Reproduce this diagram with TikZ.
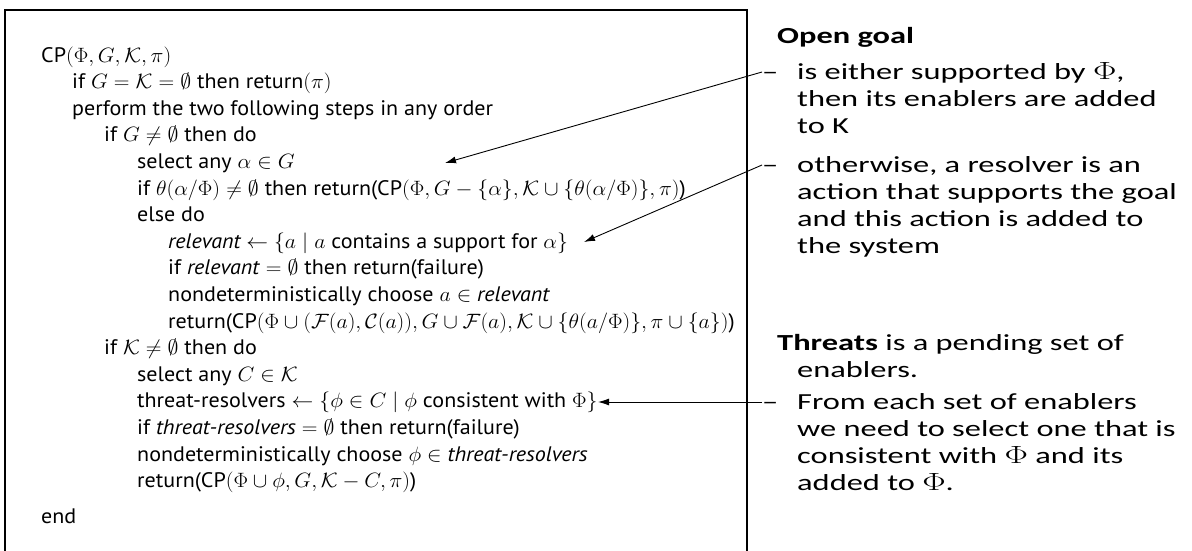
\documentclass[tikz,border=0pt]{standalone}
\usepackage{fontspec}
\usepackage{amssymb}
\usepackage{graphicx}
\usetikzlibrary{arrows.meta}
\newfontfamily\algfont{PT Sans}
\newfontfamily\slidefont{Carlito}
\newcommand{\algsx}{1.05}
\newcommand{\slsx}{1.41}
\newcommand{\ax}[1]{\scalebox{\algsx}[1]{#1}}
\newcommand{\sx}[1]{\scalebox{\slsx}[1]{#1}}
\tikzset{
  alg/.style={anchor=base west, inner sep=0pt, font=\algfont\fontsize{21}{27}\selectfont},
  sl/.style={anchor=base west, inner sep=0pt, font=\slidefont\fontsize{23}{27}\selectfont},
  conn/.style={draw=black, line width=0.9pt, -{Latex[length=11pt,width=7pt]}},
}
\begin{document}
\begin{tikzpicture}[x=1pt,y=-1pt]
\useasboundingbox (0,0) rectangle (1192,550);
% box (bottom cut off)
\draw[line width=1.1pt] (5,560) -- (5,10) -- (747,10) -- (747,560);
% algorithm
\node[alg] (l1) at (41,62) {\ax{CP$(\Phi,G,\mathcal{K},\pi)$}};
\node[alg] (l2) at (72,88.6) {\ax{if $G=\mathcal{K}=\emptyset$ then return$(\pi)$}};
\node[alg] (l3) at (72,115.2) {\ax{perform the two following steps in any order}};
\node[alg] (l4) at (104,141.8) {\ax{if $G\neq\emptyset$ then do}};
\node[alg] (l5) at (137,168.4) {\ax{select any $\alpha\in G$}};
\node[alg] (l6) at (137,195) {\ax{if $\theta(\alpha/\Phi)\neq\emptyset$ then return(CP$(\Phi,G-\{\alpha\},\mathcal{K}\cup\{\theta(\alpha/\Phi)\},\pi)$)}};
\node[alg] (l7) at (137,221.6) {\ax{else do}};
\node[alg] (l8) at (168,248.2) {\ax{\itshape relevant\upshape{} $\leftarrow\{a\mid a$ contains a support for $\alpha\}$}};
\node[alg] (l9) at (168,274.8) {\ax{if \textit{relevant} $=\emptyset$ then return(failure)}};
\node[alg] (l10) at (168,301.4) {\ax{nondeterministically choose $a\in$ \textit{relevant}}};
\node[alg] (l11) at (168,328) {\ax{return(CP$(\Phi\cup(\mathcal{F}(a),\mathcal{C}(a)),G\cup\mathcal{F}(a),\mathcal{K}\cup\{\theta(a/\Phi)\},\pi\cup\{a\})$)}};
\node[alg] (l12) at (104,354.6) {\ax{if $\mathcal{K}\neq\emptyset$ then do}};
\node[alg] (l13) at (137,381.2) {\ax{select any $C\in\mathcal{K}$}};
\node[alg] (l14) at (137,407.8) {\ax{threat-resolvers $\leftarrow\{\phi\in C\mid\phi$ consistent with $\Phi\}$}};
\node[alg] (l15) at (137,434.4) {\ax{if \textit{threat-resolvers} $=\emptyset$ then return(failure)}};
\node[alg] (l16) at (137,461) {\ax{nondeterministically choose $\phi\in$ \textit{threat-resolvers}}};
\node[alg] (l17) at (137,487.6) {\ax{return(CP$(\Phi\cup\phi,G,\mathcal{K}-C,\pi)$)}};
\node[alg] (lend) at (41,523) {\ax{end}};
% right column
\node[sl] (og) at (777,43) {\sx{\bfseries Open goal}};
\node[sl] (d1) at (762,79) {\sx{–}};
\node[sl] (r1) at (797,79) {\sx{is either supported by $\Phi$,}};
\node[sl] (r2) at (797,106) {\sx{then its enablers are added}};
\node[sl] (r3) at (797,133) {\sx{to K}};
\node[sl] (d2) at (762,172) {\sx{–}};
\node[sl] (r4) at (797,172) {\sx{otherwise, a resolver is an}};
\node[sl] (r5) at (797,199) {\sx{action that supports the goal}};
\node[sl] (r6) at (797,226) {\sx{and this action is added to}};
\node[sl] (r7) at (797,253) {\sx{the system}};
\node[sl] (th) at (777,350) {\sx{\textbf{Threats} is a pending set of}};
\node[sl] (t2) at (797,377) {\sx{enablers.}};
\node[sl] (d3) at (762,409) {\sx{–}};
\node[sl] (t3) at (797,409) {\sx{From each set of enablers}};
\node[sl] (t4) at (797,436) {\sx{we need to select one that is}};
\node[sl] (t5) at (797,463) {\sx{consistent with $\Phi$ and its}};
\node[sl] (t6) at (797,490) {\sx{added to $\Phi$.}};
% arrow targets
\coordinate (a1) at (445,163);
\coordinate (a2) at (584,242);
\coordinate (a3) at (598,402);
\draw[conn] ([yshift=7pt]d1.base west) -- (a1);
\draw[conn] ([yshift=7pt]d2.base west) -- (a2);
\draw[conn] ([yshift=7pt]d3.base west) -- (a3);
\end{tikzpicture}
\end{document}
